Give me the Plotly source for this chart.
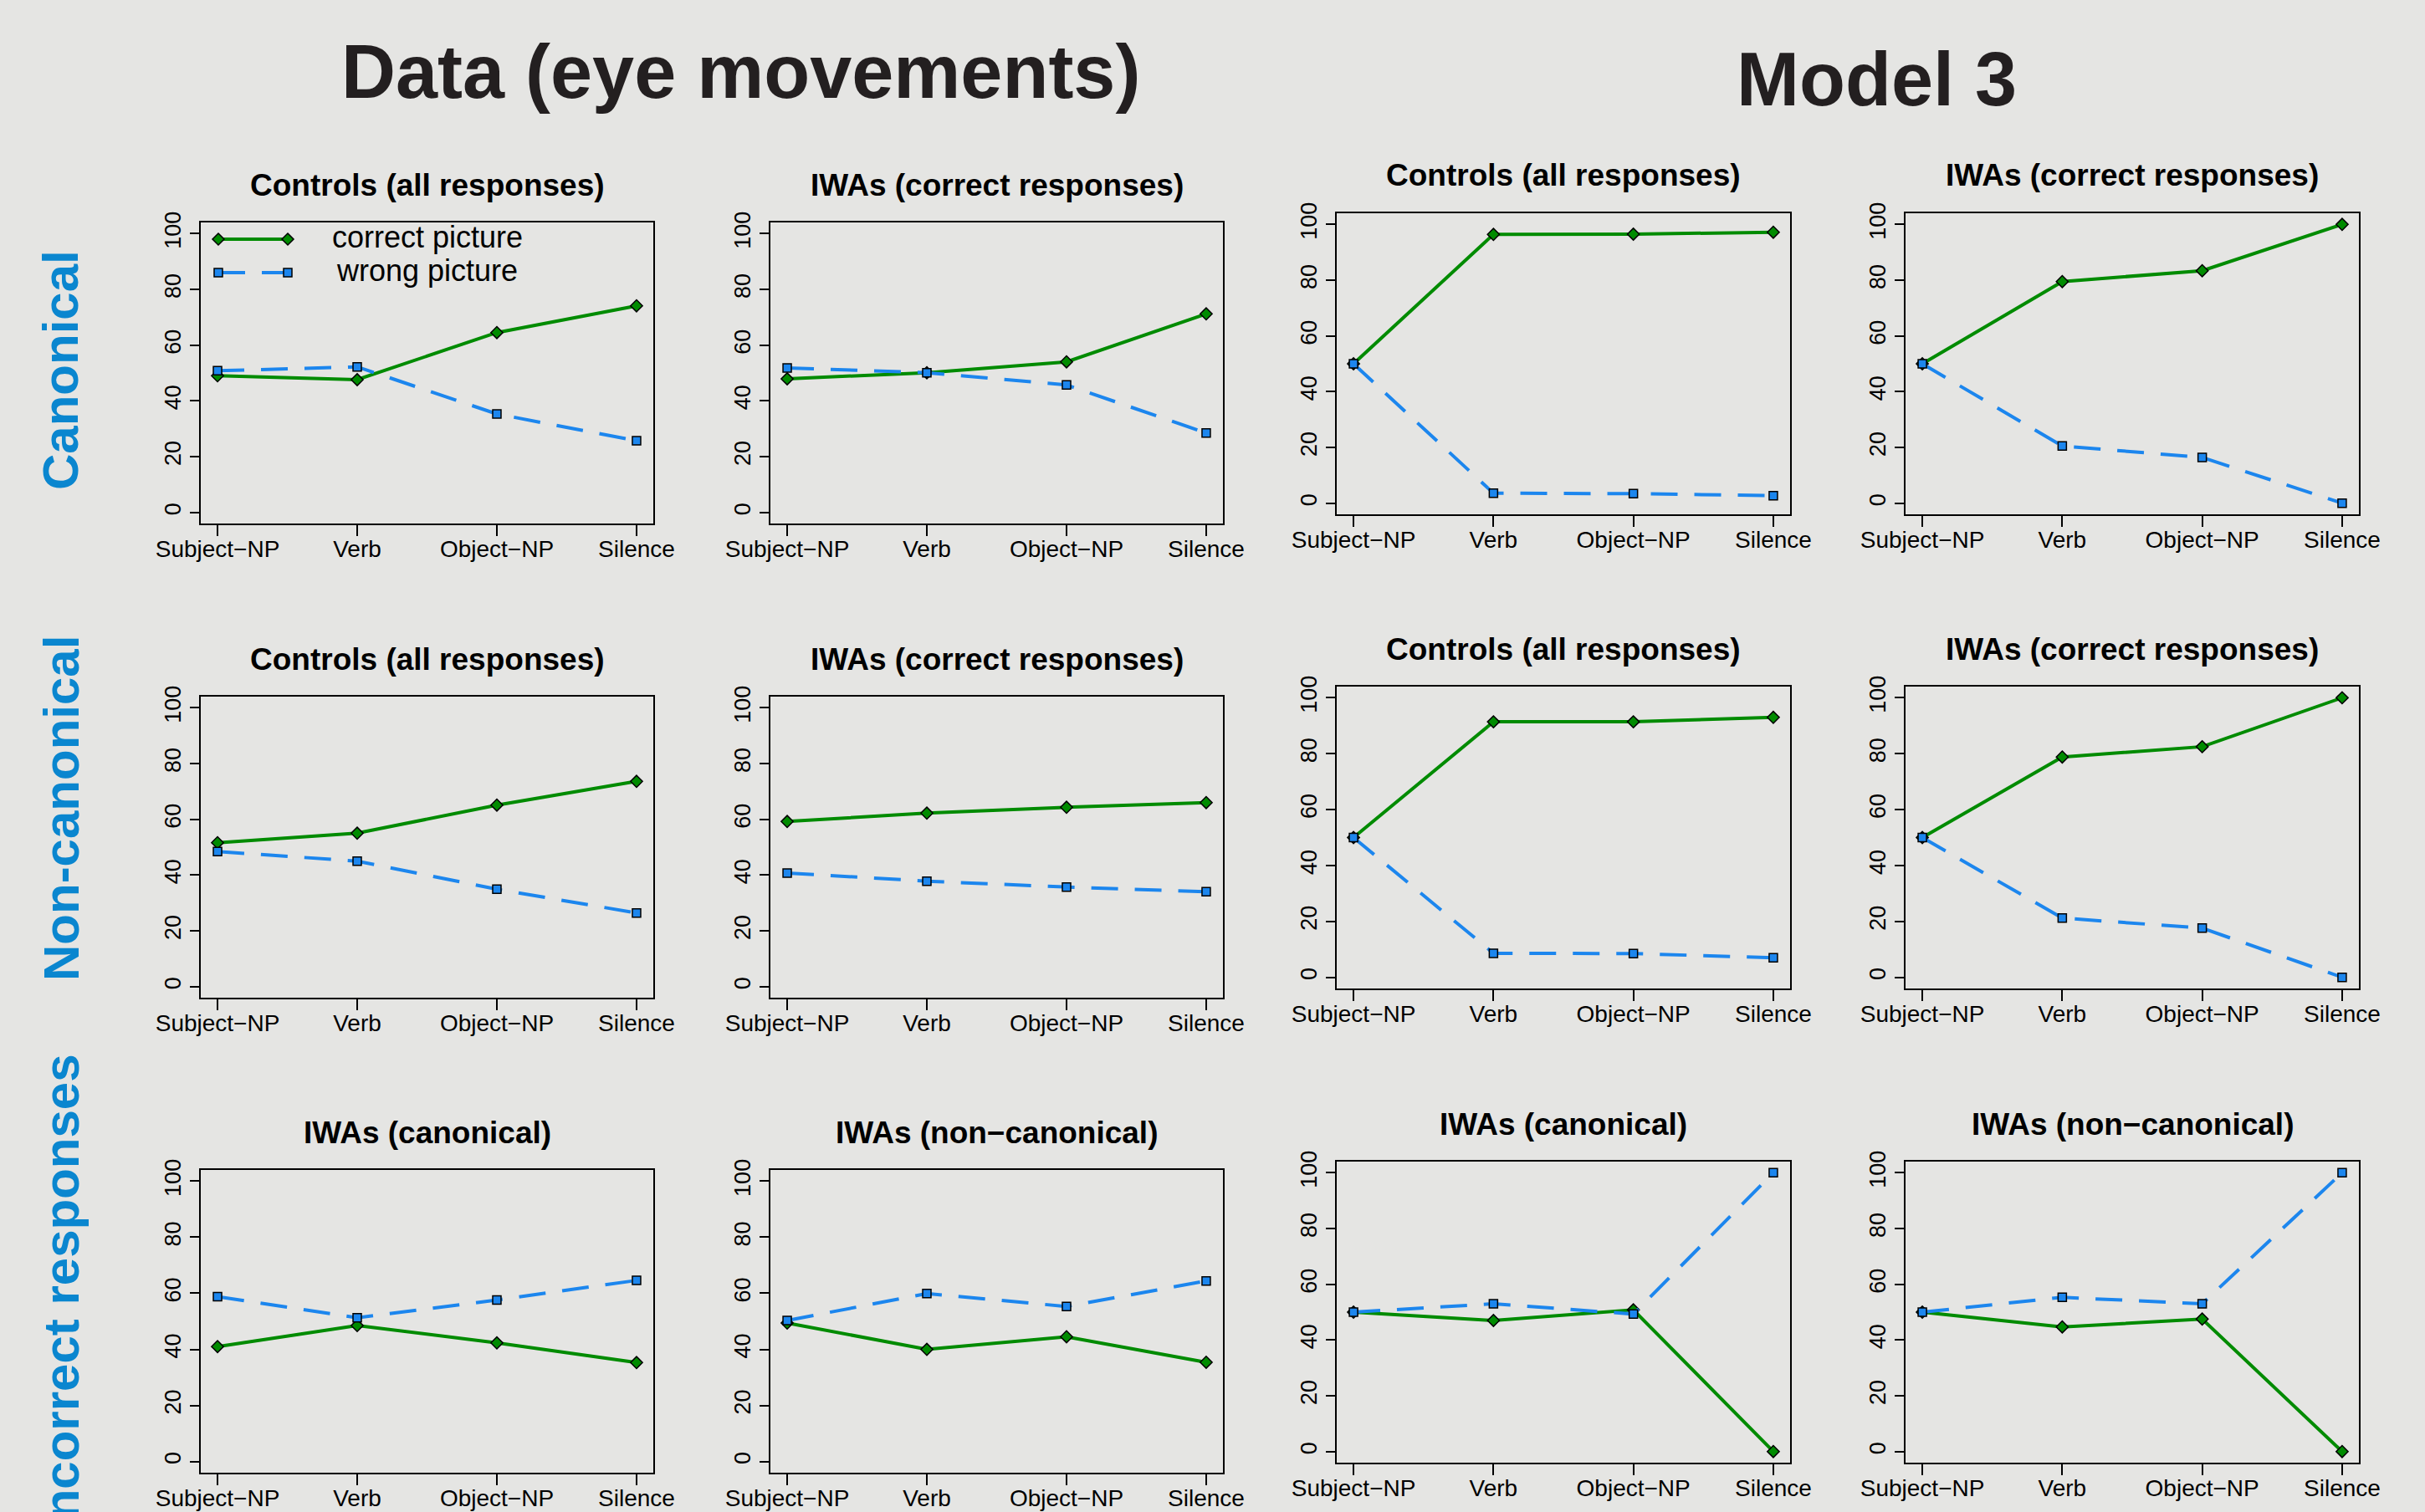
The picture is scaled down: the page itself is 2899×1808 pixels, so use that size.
import plotly.graph_objects as go

# ---------------- data ----------------
categories = ["Subject\u2212NP", "Verb", "Object\u2212NP", "Silence"]
y_ticks = [0, 20, 40, 60, 80, 100]

# Data (eye movements)
data_can_controls_correct = [49.0, 47.6, 64.5, 74.1]
data_can_controls_wrong = [50.8, 52.2, 35.3, 25.7]
data_can_iwas_correct = [47.9, 50.1, 54.0, 71.2]
data_can_iwas_wrong = [51.8, 50.1, 45.7, 28.5]
data_non_controls_correct = [51.6, 55.0, 65.1, 73.6]
data_non_controls_wrong = [48.4, 45.0, 34.9, 26.4]
data_non_iwas_correct = [59.2, 62.2, 64.3, 66.0]
data_non_iwas_wrong = [40.7, 37.8, 35.7, 34.0]
data_inc_can_correct = [41.0, 48.5, 42.3, 35.3]
data_inc_can_wrong = [58.8, 51.3, 57.6, 64.6]
data_inc_non_correct = [49.4, 40.0, 44.5, 35.4]
data_inc_non_wrong = [50.3, 59.9, 55.3, 64.4]

# Model 3
model_can_controls_correct = [50.0, 96.4, 96.5, 97.2]
model_can_controls_wrong = [50.0, 3.6, 3.4, 2.7]
model_can_iwas_correct = [50.0, 79.5, 83.4, 100.0]
model_can_iwas_wrong = [50.0, 20.5, 16.4, 0.0]
model_non_controls_correct = [50.0, 91.4, 91.4, 93.0]
model_non_controls_wrong = [50.0, 8.6, 8.5, 7.0]
model_non_iwas_correct = [50.0, 78.8, 82.5, 100.0]
model_non_iwas_wrong = [50.0, 21.2, 17.6, 0.0]
model_inc_can_correct = [50.0, 47.0, 50.8, 0.0]
model_inc_can_wrong = [50.0, 53.0, 49.3, 100.0]
model_inc_non_correct = [50.0, 44.7, 47.5, 0.0]
model_inc_non_wrong = [50.0, 55.3, 53.0, 100.0]

panel_titles = ["Controls (all responses)", "IWAs (correct responses)",
                "IWAs (canonical)", "IWAs (non\u2212canonical)"]
row_labels = ["Canonical", "Non-canonical", "Incorrect responses"]
big_titles = ["Data (eye movements)", "Model 3"]
legend_labels = ["correct picture", "wrong picture"]

# ---------------- layout geometry (pixels) ----------------
W, H = 2899, 1808
BG = "#e5e5e3"
GREEN = "#008B00"
BLUE = "#1C86EE"
ROWBLUE = "#0a86cf"
FONT = "Liberation Sans, Arial, Helvetica, sans-serif"
DASH = "32px,20px"

def fx(px):
    return px / W

def fy(py):
    return 1 - py / H

data_cols = [(240, 781), (921, 1462)]
model_cols = [(1598, 2140), (2278, 2820)]
data_rows = [(266, 626), (833, 1193), (1399, 1761)]
model_rows = [(255, 615), (821, 1182), (1389, 1749)]

panels = [
    # (title, correct, wrong, xbox, ybox)
    (panel_titles[0], data_can_controls_correct, data_can_controls_wrong, data_cols[0], data_rows[0]),
    (panel_titles[1], data_can_iwas_correct, data_can_iwas_wrong, data_cols[1], data_rows[0]),
    (panel_titles[0], data_non_controls_correct, data_non_controls_wrong, data_cols[0], data_rows[1]),
    (panel_titles[1], data_non_iwas_correct, data_non_iwas_wrong, data_cols[1], data_rows[1]),
    (panel_titles[2], data_inc_can_correct, data_inc_can_wrong, data_cols[0], data_rows[2]),
    (panel_titles[3], data_inc_non_correct, data_inc_non_wrong, data_cols[1], data_rows[2]),
    (panel_titles[0], model_can_controls_correct, model_can_controls_wrong, model_cols[0], model_rows[0]),
    (panel_titles[1], model_can_iwas_correct, model_can_iwas_wrong, model_cols[1], model_rows[0]),
    (panel_titles[0], model_non_controls_correct, model_non_controls_wrong, model_cols[0], model_rows[1]),
    (panel_titles[1], model_non_iwas_correct, model_non_iwas_wrong, model_cols[1], model_rows[1]),
    (panel_titles[2], model_inc_can_correct, model_inc_can_wrong, model_cols[0], model_rows[2]),
    (panel_titles[3], model_inc_non_correct, model_inc_non_wrong, model_cols[1], model_rows[2]),
]

xpos = [1, 2, 3, 4]

fig = go.Figure()
layout = dict(
    width=W, height=H,
    margin=dict(l=0, r=0, t=0, b=0, pad=0, autoexpand=False),
    paper_bgcolor=BG, plot_bgcolor=BG,
    showlegend=False,
    font=dict(family=FONT, color="black"),
)
annotations = []
shapes = []

for i, (title, corr, wrong, (x0, x1), (y0, y1)) in enumerate(panels, start=1):
    sfx = "" if i == 1 else str(i)
    xa, ya = "x" + sfx, "y" + sfx
    fig.add_trace(go.Scatter(
        x=xpos, y=corr, xaxis=xa, yaxis=ya, mode="lines+markers",
        line=dict(color=GREEN, width=4),
        marker=dict(symbol="diamond", size=11, color=GREEN,
                    line=dict(color="black", width=1.5)),
        hoverinfo="skip"))
    fig.add_trace(go.Scatter(
        x=xpos, y=wrong, xaxis=xa, yaxis=ya, mode="lines+markers",
        line=dict(color=BLUE, width=4, dash=DASH),
        marker=dict(symbol="square", size=10, color=BLUE,
                    line=dict(color="black", width=1.5)),
        hoverinfo="skip"))
    layout["xaxis" + sfx] = dict(
        domain=[fx(x0), fx(x1)], anchor=ya, range=[0.88, 4.12], automargin=False,
        tickvals=xpos, ticktext=categories, ticks="outside", ticklen=13,
        ticklabelstandoff=-9,
        tickwidth=1.5, tickcolor="black", showline=True, mirror=True,
        linecolor="black", linewidth=2, showgrid=False, zeroline=False,
        tickfont=dict(size=28, family=FONT, color="black"), fixedrange=True)
    layout["yaxis" + sfx] = dict(
        domain=[fy(y1), fy(y0)], anchor=xa, range=[-4, 104], automargin=False,
        tickvals=y_ticks, ticks="outside", ticklen=11, tickangle=-90,
        tickwidth=1.5, tickcolor="black", showline=True, mirror=True,
        linecolor="black", linewidth=2, showgrid=False, zeroline=False,
        tickfont=dict(size=27, family=FONT, color="black"), fixedrange=True)
    annotations.append(dict(
        text="<b>%s</b>" % title, x=fx((x0 + x1) / 2), y=fy(y0 - 45),
        xref="paper", yref="paper", showarrow=False,
        xanchor="center", yanchor="middle",
        font=dict(size=37, family=FONT, color="black")))

# big titles
annotations.append(dict(text="<b>%s</b>" % big_titles[0], x=fx(885), y=fy(86),
                        xref="paper", yref="paper", showarrow=False,
                        xanchor="center", yanchor="middle",
                        font=dict(size=90, family=FONT, color="#231f20")))
annotations.append(dict(text="<b>%s</b>" % big_titles[1], x=fx(2243), y=fy(95),
                        xref="paper", yref="paper", showarrow=False,
                        xanchor="center", yanchor="middle",
                        font=dict(size=90, family=FONT, color="#231f20")))

# row labels
for lab, cy in zip(row_labels, [443, 967, 1547]):
    annotations.append(dict(text="<b>%s</b>" % lab, x=fx(73), y=fy(cy),
                            xref="paper", yref="paper", showarrow=False,
                            textangle=-90, xanchor="center", yanchor="middle",
                            font=dict(size=60, family=FONT, color=ROWBLUE)))

# legend (inside first data panel)
lx0, lx1 = 261, 344
for lab, ly, col, dash, sym in [(legend_labels[0], 286, GREEN, "solid", "diamond"),
                               (legend_labels[1], 326, BLUE, DASH, "square")]:
    shapes.append(dict(type="line", xref="paper", yref="paper",
                       x0=fx(lx0), x1=fx(lx1), y0=fy(ly), y1=fy(ly),
                       line=dict(color=col, width=4, dash=dash)))
    for mx in (lx0, lx1):
        if sym == "diamond":
            r = 7
            path = "M %f,%f L %f,%f L %f,%f L %f,%f Z" % (
                fx(mx), fy(ly - r), fx(mx + r), fy(ly), fx(mx), fy(ly + r), fx(mx - r), fy(ly))
        else:
            r = 5
            path = "M %f,%f L %f,%f L %f,%f L %f,%f Z" % (
                fx(mx - r), fy(ly - r), fx(mx + r), fy(ly - r), fx(mx + r), fy(ly + r), fx(mx - r), fy(ly + r))
        shapes.append(dict(type="path", xref="paper", yref="paper", path=path,
                           fillcolor=col, line=dict(color="black", width=1.5)))
    annotations.append(dict(text=lab, x=fx(511), y=fy(ly - 3), xref="paper", yref="paper",
                            showarrow=False, xanchor="center", yanchor="middle",
                            font=dict(size=36, family=FONT, color="black")))

layout["annotations"] = annotations
layout["shapes"] = shapes
fig.update_layout(**layout)
fig.write_html(
    "out.html",
    config=dict(displayModeBar=False),
    post_script="document.body.style.margin='0';document.body.style.padding='0';"
                "document.body.style.overflow='hidden';"
                "document.body.style.background='%s';" % BG)
